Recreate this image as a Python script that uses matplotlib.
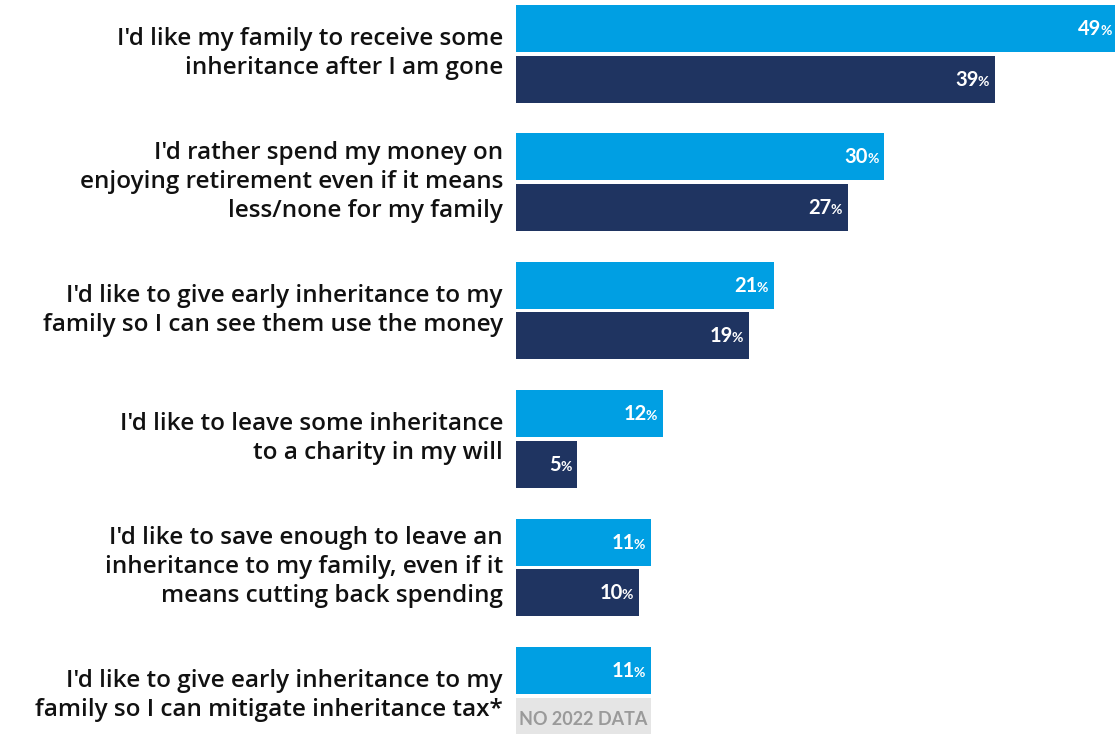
import matplotlib
matplotlib.use("Agg")
import matplotlib.pyplot as plt
from matplotlib.patches import Rectangle

categories = [
    "I'd like my family to receive some\ninheritance after I am gone",
    "I'd rather spend my money on\nenjoying retirement even if it means\nless/none for my family",
    "I'd like to give early inheritance to my\nfamily so I can see them use the money",
    "I'd like to leave some inheritance\nto a charity in my will",
    "I'd like to save enough to leave an\ninheritance to my family, even if it\nmeans cutting back spending",
    "I'd like to give early inheritance to my\nfamily so I can mitigate inheritance tax*",
]
values_2023 = [49, 30, 21, 12, 11, 11]
values_2022 = [39, 27, 19, 5, 10, None]
no_data_label = "NO 2022 DATA"

LIGHT = "#009FE3"
NAVY = "#1F3461"
GREY_BOX = "#E5E5E5"
GREY_TXT = "#9A9A9A"

plt.rcParams["font.family"] = ["Lato", "DejaVu Sans"]

fig = plt.figure(figsize=(11.15, 7.34), dpi=100)
ax = fig.add_axes([516 / 1115, 0, 1 - 516 / 1115, 1])

bar_h = 0.366
off = 0.197

labels = []

def value_label(v, y):
    pct = ax.annotate("%", xy=(v, y), xytext=(-6, -6.5), textcoords="offset pixels",
                      ha="right", va="baseline", color="white", fontsize=10,
                      fontweight="bold", annotation_clip=False)
    labels.append((v, y, pct))

for i, (cat, a, b) in enumerate(zip(categories, values_2023, values_2022)):
    ax.barh(i - off, a, height=bar_h, color=LIGHT)
    value_label(a, i - off)
    if b is not None:
        ax.barh(i + off, b, height=bar_h, color=NAVY)
        value_label(b, i + off)
    else:
        ax.add_patch(Rectangle((0, i + off - bar_h / 2), a, bar_h,
                               facecolor=GREY_BOX, edgecolor="none"))
        ax.text(a / 2, i + off - 0.01, no_data_label, ha="center", va="center",
                color=GREY_TXT, fontsize=13, fontweight="bold")
    ax.annotate(cat, xy=(0, i), xytext=(-13, 0), textcoords="offset pixels",
                ha="right", va="center", multialignment="right",
                fontsize=17.5, fontweight="semibold", color="#111111",
                family=["Open Sans", "DejaVu Sans"],
                linespacing=1.28, annotation_clip=False)

ax.set_xlim(0, (1115 - 516) / 12.28)
ax.set_ylim((734 - 53.75) / 128.4, -53.75 / 128.4)
ax.axis("off")

# place the numbers just left of their "%" signs
fig.canvas.draw()
renderer = fig.canvas.get_renderer()
for v, y, pct in labels:
    w = pct.get_window_extent(renderer).width
    ax.annotate(str(v), xy=(v, y), xytext=(-6 - w + 1, -6.5), textcoords="offset pixels",
                ha="right", va="baseline", color="white", fontsize=14.5,
                fontweight="bold", annotation_clip=False)

fig.savefig("out.png", dpi=100)
